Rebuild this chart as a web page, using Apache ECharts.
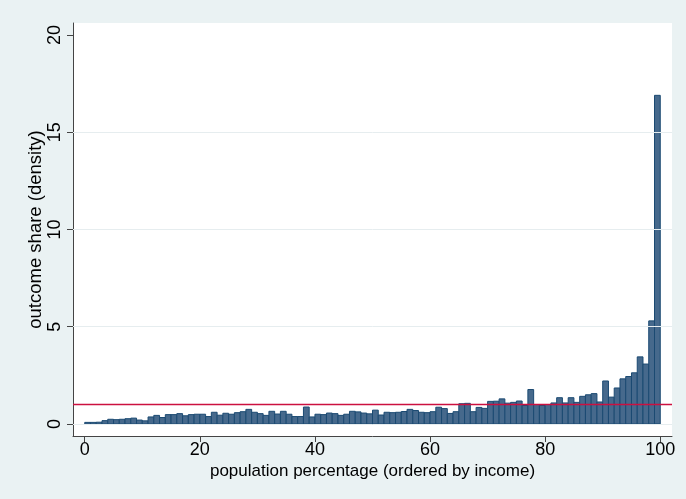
<!DOCTYPE html>
<html>
<head>
<meta charset="utf-8">
<script src="https://cdn.jsdelivr.net/npm/echarts@6/dist/echarts.min.js"></script>
<style>
html,body{margin:0;padding:0;background:#eaf2f3;}
#chart{width:686px;height:499px;}
</style>
</head>
<body>
<div id="chart"></div>
<script>
// percentile bins (lower edge), each bin is 1 percentage point wide
const binLower = [0,1,2,3,4,5,6,7,8,9,10,11,12,13,14,15,16,17,18,19,20,21,22,23,24,25,26,27,28,29,30,31,32,33,34,35,36,37,38,39,40,41,42,43,44,45,46,47,48,49,50,51,52,53,54,55,56,57,58,59,60,61,62,63,64,65,66,67,68,69,70,71,72,73,74,75,76,77,78,79,80,81,82,83,84,85,86,87,88,89,90,91,92,93,94,95,96,97,98,99];
const binWidth = 1;
// outcome share (density) per percentile bin
const density = [
  0.08,0.08,0.09,0.17,0.24,0.22,0.24,0.27,0.30,0.20,
  0.16,0.36,0.44,0.33,0.48,0.48,0.53,0.42,0.48,0.50,
  0.50,0.38,0.60,0.45,0.55,0.50,0.58,0.63,0.75,0.60,
  0.53,0.44,0.65,0.51,0.65,0.50,0.38,0.38,0.87,0.36,
  0.50,0.48,0.56,0.53,0.44,0.50,0.65,0.62,0.56,0.52,
  0.71,0.46,0.60,0.58,0.60,0.64,0.75,0.69,0.60,0.58,
  0.63,0.86,0.79,0.54,0.63,1.04,1.06,0.63,0.85,0.80,
  1.16,1.17,1.29,1.07,1.11,1.18,0.95,1.77,1.00,0.95,
  1.00,1.08,1.35,1.08,1.35,1.11,1.42,1.50,1.56,1.13,
  2.21,1.38,1.85,2.32,2.44,2.63,3.45,3.08,5.30,16.90
];
const referenceLine = 1; // equal-share line
const xTicks = [0,20,40,60,80,100];
const yTicks = [0,5,10,15,20];
const yGrid = [0,5,10,15];

const chart = echarts.init(document.getElementById('chart'), null, {renderer:'canvas'});
const font = 'Liberation Sans, Arial, Helvetica, sans-serif';
const data = binLower.map((b,i)=>[b, density[i]]);

chart.setOption({
  backgroundColor:'#eaf2f3',
  animation:false,
  grid:{left:73,right:14,top:23,bottom:63,show:true,backgroundColor:'#ffffff',borderWidth:0},
  xAxis:{
    type:'value', min:-2.04, max:102.04,
    name:'population percentage (ordered by income)',
    nameLocation:'middle', nameGap:27, nameMoveOverlap:false,
    nameTextStyle:{fontFamily:font,fontSize:17,color:'#000'},
    axisLine:{show:true,onZero:false,lineStyle:{color:'#444',width:1}},
    axisTick:{show:true,customValues:xTicks,length:6,lineStyle:{color:'#444'}},
    axisLabel:{customValues:xTicks,fontFamily:font,fontSize:18,color:'#000',margin:5},
    splitLine:{show:false}
  },
  yAxis:{
    type:'value', min:-0.62, max:20.62,
    name:'outcome share (density)',
    nameLocation:'middle', nameGap:28, nameRotate:90, nameMoveOverlap:false,
    nameTextStyle:{fontFamily:font,fontSize:18.5,color:'#000'},
    axisLine:{show:true,onZero:false,lineStyle:{color:'#444',width:1}},
    axisTick:{show:true,customValues:yTicks,length:6,lineStyle:{color:'#444'}},
    axisLabel:{customValues:yTicks,rotate:90,fontFamily:font,fontSize:18,color:'#000',margin:9},
    splitLine:{show:false}
  },
  series:[
    {
      type:'line', data:[], silent:true,
      markLine:{silent:true,symbol:'none',label:{show:false},
        lineStyle:{color:'#e6edef',width:1,type:'solid'},
        data:yGrid.map(v=>({yAxis:v}))}
    },
    {
      type:'custom',
      data:data,
      encode:{x:0,y:1},
      renderItem:function(params, api){
        const x0 = api.value(0);
        const v = api.value(1);
        const p0 = api.coord([x0, 0]);
        const p1 = api.coord([x0 + binWidth, v]);
        return {type:'rect',
          shape:{x:p0[0], y:p1[1], width:p1[0]-p0[0], height:p0[1]-p1[1]},
          style:{fill:'#46698c', stroke:'#1b4a72', lineWidth:1}};
      }
    },
    {
      type:'line', data:[], silent:true,
      markLine:{silent:true,symbol:'none',label:{show:false},
        lineStyle:{color:'#cc1040',width:1.3,type:'solid'},
        data:[{yAxis:referenceLine}]}
    }
  ]
});
</script>
</body>
</html>
